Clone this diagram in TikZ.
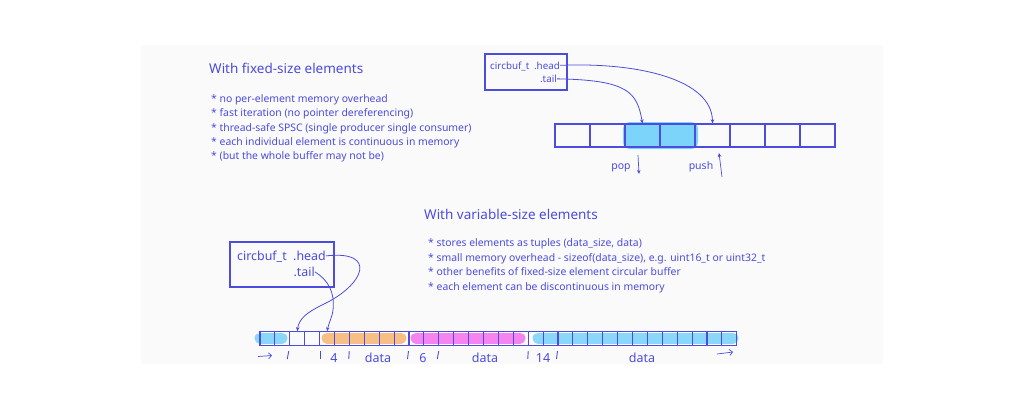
\documentclass[tikz,border=0pt]{standalone}
\usepackage{fontspec}
\setmainfont{Noto Sans}
\usetikzlibrary{arrows.meta,calc}
\definecolor{ink}{RGB}{76,76,222}
\definecolor{hlblue}{RGB}{125,212,250}
\definecolor{hlorange}{RGB}{247,185,120}
\definecolor{hlpink}{RGB}{245,120,240}
\definecolor{panel}{RGB}{250,250,250}
\begin{document}
\begin{tikzpicture}[x=1pt,y=-1pt,
  every node/.style={text=ink, inner sep=0pt},
  titletext/.style={font=\fontsize{13.5}{16}\selectfont, anchor=west},
  bullets/.style={font=\fontsize{10.4}{14.3}\selectfont, anchor=north west, align=left},
  bullets2/.style={font=\fontsize{10.4}{14.65}\selectfont, anchor=north west, align=left},
  smalltext/.style={font=\fontsize{9.8}{11}\selectfont},
  midtext/.style={font=\fontsize{12.4}{14}\selectfont},
  poptext/.style={font=\fontsize{10.5}{12}\selectfont, anchor=base},
  lbltext/.style={font=\fontsize{12.5}{14}\selectfont, anchor=base},
  box/.style={draw=ink, line width=1.3pt, rectangle},
  bigcell/.style={draw=ink, line width=1.2pt, rectangle, minimum width=35pt, minimum height=23pt},
  smallcell/.style={draw=ink, line width=1.1pt, rectangle, minimum width=14.9pt, minimum height=13.5pt},
  pointer/.style={draw=ink, line width=0.8pt, -{Stealth[length=4pt,width=3.5pt]}},
  tick/.style={draw=ink, line width=0.9pt},
  hl/.style={line width=11pt, line cap=round, opacity=0.9}
]
\useasboundingbox (0,0) rectangle (1024,410);
\fill[panel] (141,45) rectangle (883,364);

% ---------- fixed-size ----------
\node[titletext] (t1) at (209,68) {With fixed-size elements};
\node[bullets] (b1) at (211,94.5) {* no per-element memory overhead\\
* fast iteration (no pointer dereferencing)\\
* thread-safe SPSC (single producer single consumer)\\
* each individual element is continuous in memory\\
* (but the whole buffer may not be)};

\node[box, minimum width=82pt, minimum height=36pt] (box1) at (526,72) {};
\node[smalltext, anchor=base west] (cb1) at (490,69) {circbuf\_t};
\node[smalltext, anchor=base east] (head1) at (560,69) {.head};
\node[smalltext, anchor=base east] (tail1) at (557,82.5) {.tail};

\fill[hlblue, rounded corners=7pt] (623,122) rectangle (698,149);
\foreach \i in {0,...,7} {
  \node[bigcell] (c\i) at ({572.5+35*\i},135.5) {};
}
\draw[pointer] (head1.east) .. controls (640,62) and (712,80) .. (c4.north);
\draw[pointer] (tail1.east) .. controls (628,80) and (637,92) .. (c2.north);

\node[poptext] (pop) at (621,169) {pop};
\node[poptext] (push) at (701,169) {push};
\coordinate (popa) at (638,155);
\coordinate (popb) at (639,174);
\coordinate (pusha) at (722,177);
\coordinate (pushb) at (719,153);
\draw[pointer, line width=0.7pt] (popa) -- (popb);
\draw[pointer, line width=0.7pt] (pusha) -- (pushb);

% ---------- variable-size ----------
\node[titletext] (t2) at (424,214) {With variable-size elements};
\node[bullets2] (b2) at (428,238.5) {* stores elements as tuples (data\_size, data)\\
* small memory overhead - sizeof(data\_size), e.g. uint16\_t or uint32\_t\\
* other benefits of fixed-size element circular buffer\\
* each element can be discontinuous in memory};

\node[box, minimum width=104pt, minimum height=45pt] (box2) at (282,264.5) {};
\node[midtext, anchor=base west] (cb2) at (237,260.5) {circbuf\_t};
\node[midtext, anchor=base east] (head2) at (326,260.5) {.head};
\node[midtext, anchor=base east] (tail2) at (315,276.5) {.tail};

\draw[hl, hlblue] (260,338) -- (282,338);
\draw[hl, hlorange] (327,338) -- (401,338);
\draw[hl, hlpink] (416,338) -- (520,338);
\draw[hl, hlblue] (538,338) -- (733,338);
\foreach \i in {0,...,31} {
  \node[smallcell] (d\i) at ({260+14.9*(\i+0.5)},338.5) {};
}
\draw[pointer] (head2.east) .. controls (378,250) and (365,285) .. (322,305)
  .. controls (308,312) and (299,318) .. (d2.north);
\draw[pointer] (tail2.east) .. controls (328,280) and (335,292) .. (333,310)
  .. controls (332,318) and (329,322) .. (d4.north);

\node[lbltext] (n4) at (334,362) {4};
\node[lbltext] (l1) at (378,362) {data};
\node[lbltext] (n6) at (423,362) {6};
\node[lbltext] (l2) at (485,362) {data};
\node[lbltext] (n14) at (543,362) {14};
\node[lbltext] (l3) at (642,362) {data};

\foreach \x/\s in {288/1.5,320/0,349/0.5,408/1,438/1.5,528/0.5,557/1} {
  \draw[tick] (\x-\s/2,359) -- (\x+\s/2,351);
}
\coordinate (la) at (258,356.5);
\coordinate (lb) at (272,355.5);
\coordinate (ra) at (717,354);
\coordinate (rb) at (733,352);
\draw[pointer, line width=0.7pt, -{Straight Barb[length=3pt]}] (la) -- (lb);
\draw[pointer, line width=0.7pt, -{Straight Barb[length=3pt]}] (ra) -- (rb);
\end{tikzpicture}
\end{document}
